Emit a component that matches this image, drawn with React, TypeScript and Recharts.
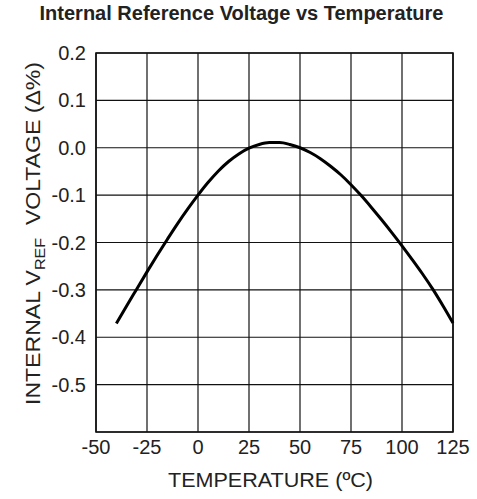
import { LineChart, Line, XAxis, YAxis, CartesianGrid, ReferenceArea, Label } from 'recharts'

// temperature (°C) and internal Vref change (Δ%)
const temps = [-40, -35, -30, -25, -20, -15, -10, -5, 0, 5, 10, 15, 20, 25, 30, 35, 40, 45, 50, 55, 60, 65, 70, 75, 80, 85, 90, 95, 100, 105, 110, 115, 120, 125]
const vrefDelta = [-0.371, -0.334, -0.298, -0.262, -0.227, -0.193, -0.16, -0.129, -0.1, -0.073, -0.049, -0.029, -0.013, -0.001, 0.007, 0.011, 0.011, 0.007, 0.0, -0.01, -0.023, -0.039, -0.057, -0.078, -0.101, -0.126, -0.152, -0.179, -0.207, -0.236, -0.266, -0.298, -0.333, -0.37]

const xTicks = [-50, -25, 0, 25, 50, 75, 100, 125]
const yTicks = [-0.6, -0.5, -0.4, -0.3, -0.2, -0.1, 0, 0.1, 0.2]

const data = temps.map((t, i) => ({ t, v: vrefDelta[i] }))

const FONT = '"Liberation Sans", Arial, Helvetica, sans-serif'
const TEXT = '#222'

function YTitle({ viewBox }: any) {
  const x = viewBox.x + 4
  const y = viewBox.y + viewBox.height / 2 - 9
  return (
    <text
      transform={`translate(${x},${y}) rotate(-90)`}
      textAnchor="middle"
      fontFamily={FONT}
      fontSize={20}
      fill={TEXT}
      textLength={343}
      lengthAdjust="spacingAndGlyphs"
    >
      <tspan>INTERNAL V</tspan>
      <tspan fontSize={14} dy={5}>REF</tspan>
      <tspan dy={-5}>{'\u00a0 VOLTAGE (Δ%)'}</tspan>
    </text>
  )
}

function XTitle({ viewBox }: any) {
  return (
    <text
      x={viewBox.x + viewBox.width / 2 - 4}
      y={487}
      textAnchor="middle"
      fontFamily={FONT}
      fontSize={20}
      fill={TEXT}
      textLength={205}
      lengthAdjust="spacingAndGlyphs"
    >
      TEMPERATURE (ºC)
    </text>
  )
}

export default function App() {
  return (
    <div style={{ position: 'absolute', left: 0, top: 0, width: 477, height: 499, background: '#fff' }}>
      <div
        style={{
          position: 'absolute',
          left: 0,
          top: 2,
          width: 477,
          textAlign: 'center',
          fontFamily: FONT,
          fontWeight: 'bold',
          fontSize: 20,
          color: TEXT,
          transform: 'translateX(3px)',
        }}
      >
        Internal Reference Voltage vs Temperature
      </div>
      <LineChart width={477} height={499} data={data} margin={{ top: 53, right: 24, bottom: 7, left: 36 }}>
        <CartesianGrid stroke="#111" strokeWidth={1.2} />
        <XAxis
          dataKey="t"
          type="number"
          domain={[-50, 125]}
          ticks={xTicks}
          tickLine={false}
          axisLine={false}
          tickSize={0}
          tickMargin={8}
          height={60}
          tick={{ fill: TEXT, fontSize: 20, fontFamily: FONT }}
        >
          <Label content={<XTitle />} />
        </XAxis>
        <YAxis
          type="number"
          domain={[-0.6, 0.2]}
          ticks={yTicks}
          tickFormatter={(v: number) => (v === -0.6 ? '' : v.toFixed(1))}
          tickLine={false}
          axisLine={false}
          tickSize={0}
          tickMargin={10}
          width={60}
          tick={{ fill: TEXT, fontSize: 20, fontFamily: FONT }}
        >
          <Label content={<YTitle />} />
        </YAxis>
        <ReferenceArea x1={-50} x2={125} y1={-0.6} y2={0.2} fill="none" stroke="#111" strokeWidth={1.6} />
        <Line type="monotone" dataKey="v" stroke="#000" strokeWidth={3} dot={false} isAnimationActive={false} />
      </LineChart>
    </div>
  )
}
